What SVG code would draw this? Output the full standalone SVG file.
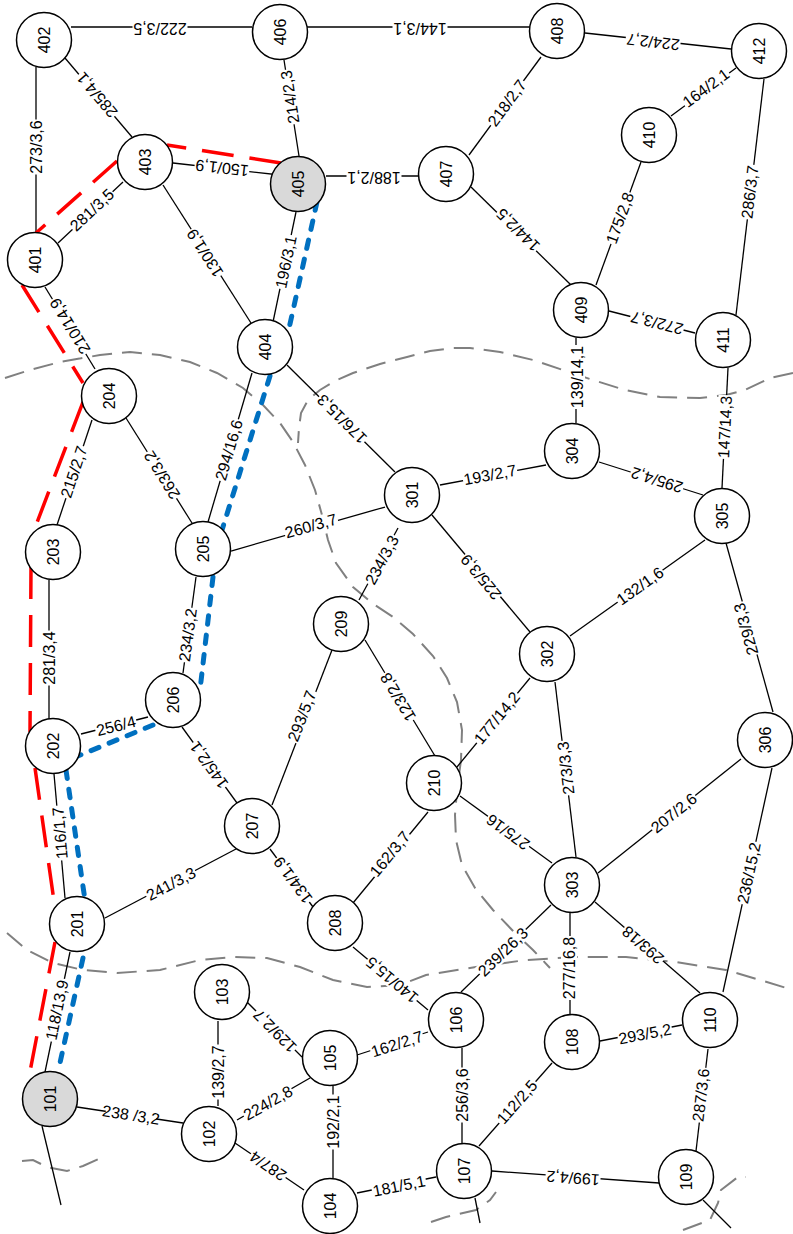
<svg xmlns="http://www.w3.org/2000/svg" width="793" height="1234" viewBox="0 0 793 1234">
<style>
.e line{stroke:#000;stroke-width:1.3;fill:none}
.n circle{fill:#fff;stroke:#000;stroke-width:1.5}
.n.s circle{fill:#d9d9d9}
text{font-family:"Liberation Sans",Arial,sans-serif;font-size:16px;text-anchor:middle;dominant-baseline:central;fill:#000}
.l rect{fill:#fff}
.g{fill:none;stroke:#808080;stroke-width:2;stroke-dasharray:20 10}
.r{fill:none;stroke:#f00;stroke-width:3.5;stroke-dasharray:32 16}
.b{fill:none;stroke:#0070c0;stroke-width:5;stroke-dasharray:8.5 11;stroke-linecap:round}
</style>
<rect width="793" height="1234" fill="#fff"/>
<g id="zones">
<path class="g" d="M5,378 L30,370 L60,362 L100,355 L130,352 L160,355 L190,362 L217,373 L243,388 L263,405 L280,423 L293,442 L305,465 L315,490 L322,515 L328,540 L336,563 L353,587 L372,603 L393,617 L413,634 L433,656 L447,678 L457,702 L462,730 L461,760 L457,790 L455,815 L456,840 L462,865 L475,888 L493,910 L515,933 L533,950 L550,968"/>
<path class="g" d="M793,373 L770,378 L745,390 L726,395 L700,398 L660,397 L625,390 L593,380 L563,370 L533,360 L500,352 L470,348 L453,348 L430,351 L407,357 L380,364 L353,373 L335,381 L320,390 L308,400 L301,413 L299,428 L298,443"/>
<path class="g" d="M7,933 L27,950 L53,963 L83,970 L117,973 L160,970 L200,960 L233,957 L267,958 L300,967 L333,980 L367,987 L400,985 L426,975 L476,967 L526,960 L576,957 L626,957 L676,962 L726,970 L760,980 L793,990"/>
<path class="g" d="M22,1161 L33,1160 L47,1167 L67,1171 L83,1166 L103,1157"/>
<path class="g" d="M431,1222 L446,1217 L476,1210 L490,1200 L496,1192"/>
<path class="g" d="M683,1230 L710,1220 L718,1203 L721,1190 L738,1177 L746,1177"/>
</g>
<g id="connectors" class="e">
<line x1="71" y1="27" x2="252" y2="27"/>
<line x1="307" y1="27" x2="530" y2="27"/>
<line x1="585" y1="33" x2="731" y2="49"/>
<line x1="36" y1="67" x2="36" y2="233"/>
<line x1="65" y1="58" x2="132" y2="137"/>
<line x1="284" y1="60" x2="299" y2="156"/>
<line x1="173" y1="163" x2="280" y2="175"/>
<line x1="326" y1="176" x2="418" y2="176"/>
<line x1="58" y1="243" x2="123" y2="182"/>
<line x1="163" y1="185" x2="251" y2="323"/>
<line x1="296" y1="212" x2="273" y2="322"/>
<line x1="45" y1="287" x2="95" y2="369"/>
<line x1="469" y1="155" x2="541" y2="57"/>
<line x1="471" y1="187" x2="571" y2="285"/>
<line x1="671" y1="116" x2="736" y2="68"/>
<line x1="641" y1="162" x2="596" y2="285"/>
<line x1="764" y1="79" x2="736" y2="315"/>
<line x1="609" y1="311" x2="695" y2="333"/>
<line x1="576" y1="338" x2="576" y2="423"/>
<line x1="728" y1="368" x2="722" y2="488"/>
<line x1="287" y1="365" x2="395" y2="472"/>
<line x1="252" y1="373" x2="208" y2="522"/>
<line x1="92" y1="420" x2="57" y2="525"/>
<line x1="126" y1="418" x2="192" y2="523"/>
<line x1="231" y1="551" x2="385" y2="507"/>
<line x1="440" y1="485" x2="546" y2="465"/>
<line x1="599" y1="462" x2="703" y2="495"/>
<line x1="432" y1="515" x2="530" y2="632"/>
<line x1="570" y1="636" x2="705" y2="540"/>
<line x1="726" y1="543" x2="773" y2="712"/>
<line x1="398" y1="528" x2="359" y2="600"/>
<line x1="49" y1="580" x2="49" y2="719"/>
<line x1="196" y1="577" x2="183" y2="673"/>
<line x1="365" y1="640" x2="435" y2="756"/>
<line x1="332" y1="650" x2="272" y2="805"/>
<line x1="81" y1="734" x2="148" y2="717"/>
<line x1="182" y1="727" x2="237" y2="803"/>
<line x1="457" y1="767" x2="530" y2="678"/>
<line x1="555" y1="682" x2="576" y2="857"/>
<line x1="54" y1="774" x2="65" y2="898"/>
<line x1="236" y1="849" x2="105" y2="918"/>
<line x1="270" y1="849" x2="313" y2="907"/>
<line x1="428" y1="812" x2="353" y2="903"/>
<line x1="460" y1="796" x2="552" y2="863"/>
<line x1="598" y1="873" x2="741" y2="759"/>
<line x1="772" y1="768" x2="723" y2="992"/>
<line x1="353" y1="947" x2="428" y2="1010"/>
<line x1="551" y1="905" x2="461" y2="992"/>
<line x1="570" y1="913" x2="570" y2="1014"/>
<line x1="595" y1="902" x2="700" y2="993"/>
<line x1="70" y1="952" x2="45" y2="1072"/>
<line x1="77" y1="1107" x2="183" y2="1123"/>
<line x1="218" y1="1021" x2="218" y2="1106"/>
<line x1="247" y1="1002" x2="302" y2="1057"/>
<line x1="237" y1="1120" x2="310" y2="1078"/>
<line x1="357" y1="1055" x2="428" y2="1032"/>
<line x1="333" y1="1086" x2="333" y2="1178"/>
<line x1="235" y1="1143" x2="304" y2="1190"/>
<line x1="357" y1="1193" x2="436" y2="1177"/>
<line x1="462" y1="1048" x2="462" y2="1143"/>
<line x1="479" y1="1146" x2="552" y2="1063"/>
<line x1="600" y1="1041" x2="682" y2="1025"/>
<line x1="708" y1="1049" x2="696" y2="1151"/>
<line x1="492" y1="1171" x2="659" y2="1183"/>
<line x1="42" y1="1126" x2="61" y2="1205"/>
<line x1="475" y1="1198" x2="480" y2="1223"/>
<line x1="703" y1="1200" x2="731" y2="1228"/>
</g>
<g id="edge-labels">
<g class="l" transform="translate(160 28) rotate(180)"><rect x="-27.5" y="-8" width="55" height="16"/><text>222/3,5</text></g>
<g class="l" transform="translate(420 28) rotate(180)"><rect x="-27.5" y="-8" width="55" height="16"/><text>144/3,1</text></g>
<g class="l" transform="translate(653 42) rotate(186.3)"><rect x="-27.5" y="-8" width="55" height="16"/><text>224/2,7</text></g>
<g class="l" transform="translate(36 147) rotate(-90)"><rect x="-27.5" y="-8" width="55" height="16"/><text>273/3,6</text></g>
<g class="l" transform="translate(97 95) rotate(-130.3)"><rect x="-27.5" y="-8" width="55" height="16"/><text>285/4,1</text></g>
<g class="l" transform="translate(290 97) rotate(-98.9)"><rect x="-27.5" y="-8" width="55" height="16"/><text>214/2,3</text></g>
<g class="l" transform="translate(222 168) rotate(-173.6)"><rect x="-27.5" y="-8" width="55" height="16"/><text>150/1,9</text></g>
<g class="l" transform="translate(374 177) rotate(180)"><rect x="-27.5" y="-8" width="55" height="16"/><text>188/2,1</text></g>
<g class="l" transform="translate(92 210) rotate(-43.2)"><rect x="-27.5" y="-8" width="55" height="16"/><text>281/3,5</text></g>
<g class="l" transform="translate(205 253) rotate(-122.5)"><rect x="-27.5" y="-8" width="55" height="16"/><text>130/1,9</text></g>
<g class="l" transform="translate(286 262) rotate(-78.2)"><rect x="-27.5" y="-8" width="55" height="16"/><text>196/3,1</text></g>
<g class="l" transform="translate(70 326) rotate(-121.4)"><rect x="-32" y="-8" width="64" height="16"/><text>210/14,9</text></g>
<g class="l" transform="translate(507 103) rotate(-53.7)"><rect x="-27.5" y="-8" width="55" height="16"/><text>218/2,7</text></g>
<g class="l" transform="translate(518 230) rotate(-135.6)"><rect x="-27.5" y="-8" width="55" height="16"/><text>144/2,5</text></g>
<g class="l" transform="translate(706 88) rotate(-36.4)"><rect x="-27.5" y="-8" width="55" height="16"/><text>164/2,1</text></g>
<g class="l" transform="translate(620 218) rotate(-69.9)"><rect x="-27.5" y="-8" width="55" height="16"/><text>175/2,8</text></g>
<g class="l" transform="translate(750 192) rotate(-83.2)"><rect x="-27.5" y="-8" width="55" height="16"/><text>286/3,7</text></g>
<g class="l" transform="translate(657 323) rotate(-165.7)"><rect x="-27.5" y="-8" width="55" height="16"/><text>272/3,7</text></g>
<g class="l" transform="translate(577 377) rotate(-90)"><rect x="-32" y="-8" width="64" height="16"/><text>139/14,1</text></g>
<g class="l" transform="translate(725 427) rotate(-87.1)"><rect x="-32" y="-8" width="64" height="16"/><text>147/14,3</text></g>
<g class="l" transform="translate(342 419) rotate(-135.3)"><rect x="-32" y="-8" width="64" height="16"/><text>176/15,3</text></g>
<g class="l" transform="translate(229 450) rotate(-73.5)"><rect x="-32" y="-8" width="64" height="16"/><text>294/16,6</text></g>
<g class="l" transform="translate(74 472) rotate(-71.6)"><rect x="-27.5" y="-8" width="55" height="16"/><text>215/2,7</text></g>
<g class="l" transform="translate(162 475) rotate(-122.1)"><rect x="-27.5" y="-8" width="55" height="16"/><text>263/3,2</text></g>
<g class="l" transform="translate(311 526) rotate(-15.9)"><rect x="-27.5" y="-8" width="55" height="16"/><text>260/3,7</text></g>
<g class="l" transform="translate(490 475) rotate(-10.7)"><rect x="-27.5" y="-8" width="55" height="16"/><text>193/2,7</text></g>
<g class="l" transform="translate(657 480) rotate(-162.4)"><rect x="-27.5" y="-8" width="55" height="16"/><text>295/4,2</text></g>
<g class="l" transform="translate(481 577) rotate(-130)"><rect x="-27.5" y="-8" width="55" height="16"/><text>225/3,9</text></g>
<g class="l" transform="translate(640 586) rotate(-35.4)"><rect x="-27.5" y="-8" width="55" height="16"/><text>132/1,6</text></g>
<g class="l" transform="translate(746 629) rotate(-105.5)"><rect x="-27.5" y="-8" width="55" height="16"/><text>229/3,3</text></g>
<g class="l" transform="translate(382 560) rotate(-61.6)"><rect x="-27.5" y="-8" width="55" height="16"/><text>234/3,3</text></g>
<g class="l" transform="translate(49 658) rotate(-90)"><rect x="-27.5" y="-8" width="55" height="16"/><text>281/3,4</text></g>
<g class="l" transform="translate(188 635) rotate(-82.3)"><rect x="-27.5" y="-8" width="55" height="16"/><text>234/3,2</text></g>
<g class="l" transform="translate(398 697) rotate(-121.1)"><rect x="-27.5" y="-8" width="55" height="16"/><text>123/2,8</text></g>
<g class="l" transform="translate(302 716) rotate(-68.8)"><rect x="-27.5" y="-8" width="55" height="16"/><text>293/5,7</text></g>
<g class="l" transform="translate(116 726) rotate(-14.2)"><rect x="-21" y="-8" width="42" height="16"/><text>256/4</text></g>
<g class="l" transform="translate(209 765) rotate(-125.9)"><rect x="-27.5" y="-8" width="55" height="16"/><text>145/2,1</text></g>
<g class="l" transform="translate(497 718) rotate(-50.6)"><rect x="-32" y="-8" width="64" height="16"/><text>177/14,2</text></g>
<g class="l" transform="translate(566 768) rotate(-96.8)"><rect x="-27.5" y="-8" width="55" height="16"/><text>273/3,3</text></g>
<g class="l" transform="translate(60 833) rotate(-95.1)"><rect x="-27.5" y="-8" width="55" height="16"/><text>116/1,7</text></g>
<g class="l" transform="translate(171 884) rotate(-27.8)"><rect x="-27.5" y="-8" width="55" height="16"/><text>241/3,3</text></g>
<g class="l" transform="translate(293 880) rotate(-126.6)"><rect x="-27.5" y="-8" width="55" height="16"/><text>134/1,9</text></g>
<g class="l" transform="translate(390 854) rotate(-50.5)"><rect x="-27.5" y="-8" width="55" height="16"/><text>162/3,7</text></g>
<g class="l" transform="translate(508 832) rotate(-143.9)"><rect x="-25.5" y="-8" width="51" height="16"/><text>275/16</text></g>
<g class="l" transform="translate(674 813) rotate(-38.6)"><rect x="-27.5" y="-8" width="55" height="16"/><text>207/2,6</text></g>
<g class="l" transform="translate(749 873) rotate(-77.7)"><rect x="-32" y="-8" width="64" height="16"/><text>236/15,2</text></g>
<g class="l" transform="translate(392 980) rotate(-140)"><rect x="-32" y="-8" width="64" height="16"/><text>140/15,5</text></g>
<g class="l" transform="translate(503 952) rotate(-44)"><rect x="-32" y="-8" width="64" height="16"/><text>239/26,3</text></g>
<g class="l" transform="translate(569 968) rotate(-90)"><rect x="-32" y="-8" width="64" height="16"/><text>277/16,8</text></g>
<g class="l" transform="translate(643 945) rotate(-139.1)"><rect x="-25.5" y="-8" width="51" height="16"/><text>293/18</text></g>
<g class="l" transform="translate(57 1010) rotate(-78.2)"><rect x="-32" y="-8" width="64" height="16"/><text>118/13,9</text></g>
<g class="l" transform="translate(131 1115) rotate(8.6)"><rect x="-25.5" y="-8" width="51" height="16"/><text>238 /3,2</text></g>
<g class="l" transform="translate(218 1072) rotate(-90)"><rect x="-27.5" y="-8" width="55" height="16"/><text>139/2,7</text></g>
<g class="l" transform="translate(275 1031) rotate(-135)"><rect x="-27.5" y="-8" width="55" height="16"/><text>129/2,7</text></g>
<g class="l" transform="translate(268 1103) rotate(-29.9)"><rect x="-27.5" y="-8" width="55" height="16"/><text>224/2,8</text></g>
<g class="l" transform="translate(397 1044) rotate(-17.9)"><rect x="-27.5" y="-8" width="55" height="16"/><text>162/2,7</text></g>
<g class="l" transform="translate(333 1122) rotate(-90)"><rect x="-27.5" y="-8" width="55" height="16"/><text>192/2,1</text></g>
<g class="l" transform="translate(268 1166) rotate(-145.7)"><rect x="-21" y="-8" width="42" height="16"/><text>287/4</text></g>
<g class="l" transform="translate(399 1186) rotate(-11.4)"><rect x="-27.5" y="-8" width="55" height="16"/><text>181/5,1</text></g>
<g class="l" transform="translate(462 1095) rotate(-90)"><rect x="-27.5" y="-8" width="55" height="16"/><text>256/3,6</text></g>
<g class="l" transform="translate(517 1102) rotate(-48.7)"><rect x="-27.5" y="-8" width="55" height="16"/><text>112/2,5</text></g>
<g class="l" transform="translate(645 1034) rotate(-11)"><rect x="-27.5" y="-8" width="55" height="16"/><text>293/5,2</text></g>
<g class="l" transform="translate(701 1095) rotate(-83.3)"><rect x="-27.5" y="-8" width="55" height="16"/><text>287/3,6</text></g>
<g class="l" transform="translate(573 1178) rotate(-175.9)"><rect x="-27.5" y="-8" width="55" height="16"/><text>199/4,2</text></g>
</g>
<g id="route-red">
<path class="r" d="M281,163 L167,145 M117,161 L36,233 M22,285 L83,383 M83,402 L33,533 M31,567 L30,732 M35,768 L55,908 M55,942 L28,1082"/>
</g>
<g id="route-blue">
<path class="b" d="M317,202 L288,333 M270,376 L222,530 M213,577 L200,690 M153,725 L78,756 M66,770 L85,900 M83,958 L58,1072"/>
</g>
<g id="nodes">
<g id="n101" class="n s"><circle cx="50" cy="1099" r="27.5"/><text transform="rotate(-90 50 1099)" x="50" y="1099">101</text></g>
<g id="n102" class="n"><circle cx="209" cy="1134" r="27.5"/><text transform="rotate(-90 209 1134)" x="209" y="1134">102</text></g>
<g id="n103" class="n"><circle cx="222" cy="992" r="27.5"/><text transform="rotate(-90 222 992)" x="222" y="992">103</text></g>
<g id="n104" class="n"><circle cx="330" cy="1206" r="27.5"/><text transform="rotate(-90 330 1206)" x="330" y="1206">104</text></g>
<g id="n105" class="n"><circle cx="330" cy="1058" r="27.5"/><text transform="rotate(-90 330 1058)" x="330" y="1058">105</text></g>
<g id="n106" class="n"><circle cx="456" cy="1020" r="27.5"/><text transform="rotate(-90 456 1020)" x="456" y="1020">106</text></g>
<g id="n107" class="n"><circle cx="464" cy="1171" r="27.5"/><text transform="rotate(-90 464 1171)" x="464" y="1171">107</text></g>
<g id="n108" class="n"><circle cx="572" cy="1042" r="27.5"/><text transform="rotate(-90 572 1042)" x="572" y="1042">108</text></g>
<g id="n109" class="n"><circle cx="686" cy="1177" r="27.5"/><text transform="rotate(-90 686 1177)" x="686" y="1177">109</text></g>
<g id="n110" class="n"><circle cx="710" cy="1020" r="27.5"/><text transform="rotate(-90 710 1020)" x="710" y="1020">110</text></g>
<g id="n201" class="n"><circle cx="77" cy="924" r="27.5"/><text transform="rotate(-90 77 924)" x="77" y="924">201</text></g>
<g id="n202" class="n"><circle cx="53" cy="746" r="27.5"/><text transform="rotate(-90 53 746)" x="53" y="746">202</text></g>
<g id="n203" class="n"><circle cx="53" cy="552" r="27.5"/><text transform="rotate(-90 53 552)" x="53" y="552">203</text></g>
<g id="n204" class="n"><circle cx="109" cy="396" r="27.5"/><text transform="rotate(-90 109 396)" x="109" y="396">204</text></g>
<g id="n205" class="n"><circle cx="203" cy="549" r="27.5"/><text transform="rotate(-90 203 549)" x="203" y="549">205</text></g>
<g id="n206" class="n"><circle cx="173" cy="700" r="27.5"/><text transform="rotate(-90 173 700)" x="173" y="700">206</text></g>
<g id="n207" class="n"><circle cx="252" cy="826" r="27.5"/><text transform="rotate(-90 252 826)" x="252" y="826">207</text></g>
<g id="n208" class="n"><circle cx="335" cy="923" r="27.5"/><text transform="rotate(-90 335 923)" x="335" y="923">208</text></g>
<g id="n209" class="n"><circle cx="341" cy="624" r="27.5"/><text transform="rotate(-90 341 624)" x="341" y="624">209</text></g>
<g id="n210" class="n"><circle cx="434" cy="783" r="27.5"/><text transform="rotate(-90 434 783)" x="434" y="783">210</text></g>
<g id="n301" class="n"><circle cx="412" cy="495" r="27.5"/><text transform="rotate(-90 412 495)" x="412" y="495">301</text></g>
<g id="n302" class="n"><circle cx="547" cy="654" r="27.5"/><text transform="rotate(-90 547 654)" x="547" y="654">302</text></g>
<g id="n303" class="n"><circle cx="572" cy="885" r="27.5"/><text transform="rotate(-90 572 885)" x="572" y="885">303</text></g>
<g id="n304" class="n"><circle cx="572" cy="451" r="27.5"/><text transform="rotate(-90 572 451)" x="572" y="451">304</text></g>
<g id="n305" class="n"><circle cx="722" cy="516" r="27.5"/><text transform="rotate(-90 722 516)" x="722" y="516">305</text></g>
<g id="n306" class="n"><circle cx="765" cy="740" r="27.5"/><text transform="rotate(-90 765 740)" x="765" y="740">306</text></g>
<g id="n401" class="n"><circle cx="35" cy="260" r="27.5"/><text transform="rotate(-90 35 260)" x="35" y="260">401</text></g>
<g id="n402" class="n"><circle cx="44" cy="40" r="27.5"/><text transform="rotate(-90 44 40)" x="44" y="40">402</text></g>
<g id="n403" class="n"><circle cx="145" cy="162" r="27.5"/><text transform="rotate(-90 145 162)" x="145" y="162">403</text></g>
<g id="n404" class="n"><circle cx="265" cy="347" r="27.5"/><text transform="rotate(-90 265 347)" x="265" y="347">404</text></g>
<g id="n405" class="n s"><circle cx="298" cy="184" r="27.5"/><text transform="rotate(-90 298 184)" x="298" y="184">405</text></g>
<g id="n406" class="n"><circle cx="280" cy="32" r="27.5"/><text transform="rotate(-90 280 32)" x="280" y="32">406</text></g>
<g id="n407" class="n"><circle cx="446" cy="174" r="27.5"/><text transform="rotate(-90 446 174)" x="446" y="174">407</text></g>
<g id="n408" class="n"><circle cx="557" cy="31" r="27.5"/><text transform="rotate(-90 557 31)" x="557" y="31">408</text></g>
<g id="n409" class="n"><circle cx="581" cy="310" r="27.5"/><text transform="rotate(-90 581 310)" x="581" y="310">409</text></g>
<g id="n410" class="n"><circle cx="649" cy="135" r="27.5"/><text transform="rotate(-90 649 135)" x="649" y="135">410</text></g>
<g id="n411" class="n"><circle cx="723" cy="340" r="27.5"/><text transform="rotate(-90 723 340)" x="723" y="340">411</text></g>
<g id="n412" class="n"><circle cx="759" cy="51" r="27.5"/><text transform="rotate(-90 759 51)" x="759" y="51">412</text></g>
</g>
</svg>
